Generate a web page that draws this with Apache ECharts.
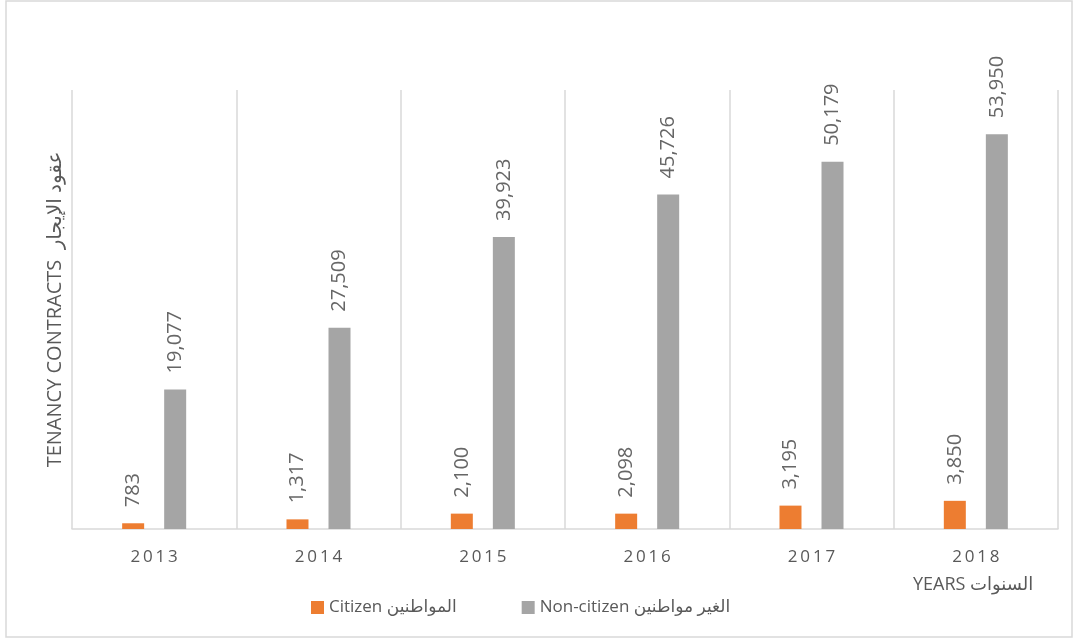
<!DOCTYPE html>
<html>
<head>
<meta charset="utf-8">
<script src="https://cdn.jsdelivr.net/npm/echarts@6/dist/echarts.min.js"></script>
<style>
  html, body { margin: 0; padding: 0; background: #fff; }
  #chart { width: 1074px; height: 640px; }
</style>
</head>
<body>
<div id="chart"></div>
<script>
  let years = ['2013', '2014', '2015', '2016', '2017', '2018']
  let citizen = [783, 1317, 2100, 2098, 3195, 3850]
  let nonCitizen = [19077, 27509, 39923, 45726, 50179, 53950]
  let seriesNames = ['Citizen المواطنين', 'Non-citizen الغير مواطنين']

  let font = '"Open Sans", "DejaVu Sans", "Noto Sans", sans-serif'
  let textColor = '#595959'
  let lineColor = '#d9d9d9'

  let chart = echarts.init(document.getElementById('chart'))

  let barLabel = {
    show: true,
    position: 'top',
    rotate: 90,
    align: 'left',
    verticalAlign: 'middle',
    distance: 16,
    color: '#666666',
    fontFamily: font,
    fontSize: 20,
    formatter: function (p) {
      return p.value.toLocaleString('en-US')
    }
  }

  let option = {
    animation: false,
    backgroundColor: '#fff',
    graphic: [{
      type: 'rect',
      shape: { x: 6, y: 1, width: 1066, height: 636 },
      style: { fill: 'none', stroke: lineColor, lineWidth: 1.5 },
      silent: true
    }, {
      type: 'text',
      left: 913,
      top: 576,
      style: {
        text: 'YEARS السنوات',
        fill: textColor,
        font: '18px ' + font
      }
    }],
    legend: {
      data: seriesNames,
      bottom: 19,
      left: 306,
      itemWidth: 13,
      itemHeight: 13,
      itemGap: 65,
      icon: 'rect',
      textStyle: { color: textColor, fontFamily: font, fontSize: 17 }
    },
    grid: {
      left: 72,
      right: 16,
      top: 90,
      bottom: 111
    },
    xAxis: {
      type: 'category',
      data: years,
      axisLine: { lineStyle: { color: lineColor, width: 1.5 } },
      axisTick: { show: false },
      splitLine: { show: true, lineStyle: { color: lineColor, width: 1.5 } },
      axisLabel: {
        color: textColor,
        fontFamily: font,
        fontSize: 17,
        margin: 20,
        formatter: function (v) {
          return v.split('').join('\u2009')
        }
      }
    },
    yAxis: {
      type: 'value',
      min: 0,
      max: 60000,
      axisLine: { show: false },
      axisTick: { show: false },
      axisLabel: { show: false },
      splitLine: { show: false },
      name: 'TENANCY CONTRACTS  عقود الإيجار',
      nameLocation: 'middle',
      nameGap: 7,
      nameTextStyle: { color: textColor, fontFamily: font, fontSize: 20 }
    },
    series: [{
      name: seriesNames[0],
      type: 'bar',
      data: citizen,
      barWidth: 22,
      barGap: '91%',
      itemStyle: { color: '#ed7d31' },
      label: barLabel
    }, {
      name: seriesNames[1],
      type: 'bar',
      data: nonCitizen,
      barWidth: 22,
      barGap: '91%',
      itemStyle: { color: '#a5a5a5' },
      label: barLabel
    }]
  }

  chart.setOption(option)
</script>
</body>
</html>
